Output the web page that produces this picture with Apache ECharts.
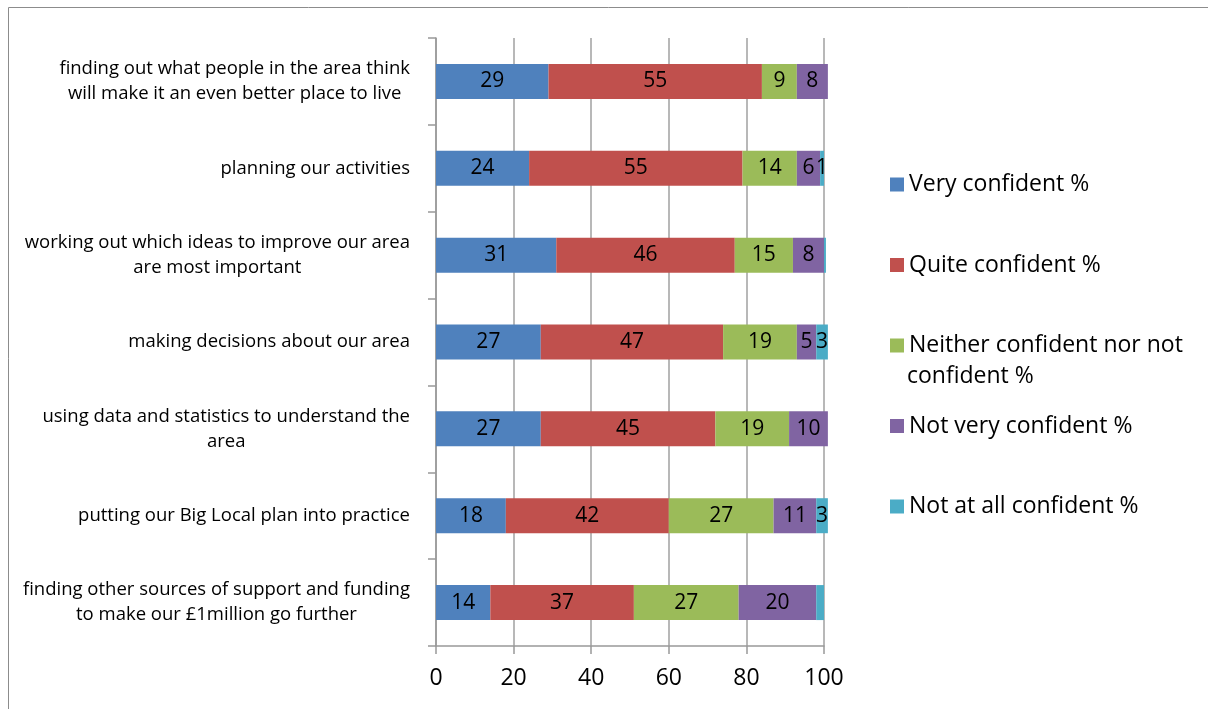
<!DOCTYPE html>
<html>
<head>
<meta charset="utf-8">
<script src="https://cdn.jsdelivr.net/npm/echarts@6/dist/echarts.min.js"></script>
<style>
  html, body { margin: 0; padding: 0; background: #fff; }
  #chart { width: 1208px; height: 709px; }
</style>
</head>
<body>
<div id="chart"></div>
<script>
// categories, top to bottom as in the picture
const categories = [
  'finding out what people in the area think\nwill make it an even better place to live',
  'planning our activities',
  'working out which ideas to improve our area\nare most important',
  'making decisions about our area',
  'using data and statistics to understand the\narea',
  'putting our Big Local plan into practice',
  'finding other sources of support and funding\nto make our £1million go further'
]
const seriesNames = [
  'Very confident %',
  'Quite confident %',
  'Neither confident nor not confident %',
  'Not very confident %',
  'Not at all confident %'
]
const veryConfident = [29, 24, 31, 27, 27, 18, 14]
const quiteConfident = [55, 55, 46, 47, 45, 42, 37]
const neitherConfident = [9, 14, 15, 19, 19, 27, 27]
const notVeryConfident = [8, 6, 8, 5, 10, 11, 20]
const notAtAllConfident = [0, 1, 0.5, 3, 0, 3, 2]
// labels shown on the last segment (some are not labelled in the picture)
const notAtAllLabels = ['', '1', '', '3', '', '3', '']
const xTicks = [0, 20, 40, 60, 80, 100]

const colors = ['#4F81BD', '#C0504D', '#9BBB59', '#8064A2', '#4BACC6']
const FONT = 'Open Sans'

const chart = echarts.init(document.getElementById('chart'))

const allValues = [veryConfident, quiteConfident, neitherConfident, notVeryConfident, notAtAllConfident]

const series = allValues.map((vals, i) => ({
  name: seriesNames[i],
  type: 'bar',
  stack: 'total',
  data: vals,
  barWidth: 35,
  clip: false,
  itemStyle: { color: colors[i] },
  label: {
    show: true,
    position: 'inside',
    color: '#000',
    fontFamily: FONT,
    fontSize: 21,
    formatter: p => {
      if (i === 4) return notAtAllLabels[p.dataIndex]
      return p.value > 0 ? String(p.value) : ''
    }
  },
  emphasis: { disabled: true }
}))

const option = {
  animation: false,
  color: colors,
  grid: { left: 436, right: 384, top: 38, bottom: 63 },
  xAxis: {
    type: 'value',
    min: 0,
    max: 100,
    interval: 20,
    axisLine: { show: true, lineStyle: { color: '#999', width: 1.5 } },
    axisTick: { show: true, length: 8, lineStyle: { color: '#999', width: 1.5 } },
    splitLine: { show: true, lineStyle: { color: '#a0a0a0', width: 1.5 } },
    axisLabel: {
      color: '#000',
      fontFamily: FONT,
      fontSize: 23,
      margin: 21,
      formatter: v => xTicks.includes(v) ? String(v) : ''
    }
  },
  yAxis: {
    type: 'category',
    inverse: true,
    data: categories,
    axisLine: { show: true, lineStyle: { color: '#999', width: 1.5 } },
    axisTick: { show: true, length: 8, lineStyle: { color: '#999', width: 1.5 } },
    axisLabel: {
      margin: 26,
      formatter: v => v.split('\n').map(s => '{c|' + s + '}').join('\n'),
      rich: {
        c: { align: 'center', color: '#000', fontFamily: FONT, fontSize: 18.5, lineHeight: 25 }
      }
    }
  },
  legend: {
    orient: 'vertical',
    left: 885,
    top: 168,
    itemWidth: 14,
    itemHeight: 14,
    itemGap: 57.5,
    icon: 'rect',
    data: seriesNames,
    textStyle: { color: '#000', fontFamily: FONT, fontSize: 23, lineHeight: 22 },
    formatter: name => name === seriesNames[2] ? 'Neither confident nor not' : name,
    selectedMode: false
  },
  graphic: [
    {
      type: 'rect',
      shape: { x: 8.5, y: 7.5, width: 1400, height: 900 },
      style: { fill: 'none', stroke: '#8c8c8c', lineWidth: 1 },
      silent: true
    },
    {
      type: 'text',
      left: 907,
      top: 365,
      style: { text: 'confident %', fill: '#000', font: '23px ' + FONT }
    }
  ],
  series: series
}

chart.setOption(option)
</script>
</body>
</html>
